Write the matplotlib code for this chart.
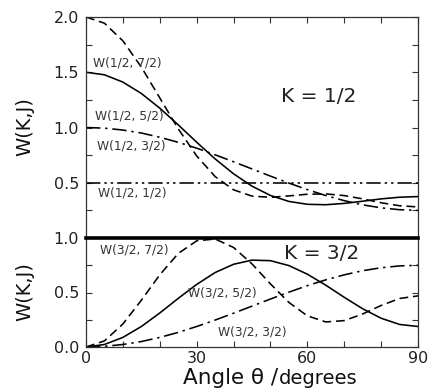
import matplotlib
matplotlib.use("Agg")
import matplotlib.pyplot as plt
from matplotlib.ticker import FixedLocator, FixedFormatter

# ---- data ----
theta = [0, 5, 10, 15, 20, 25, 30, 35, 40, 45, 50, 55, 60, 65, 70, 75, 80, 85, 90]

# K = 1/2 panel
w_half_half = [0.5] * 19
w_half_3half = [1.000, 0.994, 0.977, 0.950, 0.912, 0.866, 0.813, 0.753, 0.690, 0.625,
                0.560, 0.497, 0.438, 0.384, 0.338, 0.300, 0.273, 0.256, 0.250]
w_half_5half = [1.500, 1.477, 1.411, 1.308, 1.175, 1.024, 0.867, 0.716, 0.581, 0.469,
                0.385, 0.331, 0.305, 0.301, 0.313, 0.333, 0.354, 0.369, 0.375]
w_half_7half = [2.000, 1.944, 1.784, 1.547, 1.268, 0.988, 0.743, 0.556, 0.436, 0.379,
                0.368, 0.381, 0.396, 0.399, 0.384, 0.354, 0.319, 0.292, 0.281]

# K = 3/2 panel
w_3half_3half = [0.000, 0.006, 0.023, 0.050, 0.088, 0.134, 0.188, 0.247, 0.310, 0.375,
                 0.440, 0.503, 0.563, 0.616, 0.662, 0.700, 0.727, 0.744, 0.750]
w_3half_5half = [0.000, 0.023, 0.088, 0.188, 0.312, 0.446, 0.574, 0.683, 0.759, 0.797,
                 0.792, 0.747, 0.668, 0.567, 0.456, 0.351, 0.264, 0.207, 0.188]
w_3half_7half = [0.000, 0.056, 0.211, 0.429, 0.662, 0.858, 0.974, 0.991, 0.913, 0.762,
                 0.579, 0.409, 0.286, 0.230, 0.242, 0.303, 0.381, 0.445, 0.469]

x_major = [0, 30, 60, 90]
x_minor = [10, 20, 40, 50, 70, 80]
x_labels = ["0", "30", "60", "90"]

# ---- styles ----
DASH = (0, (5.5, 3.0))
DASHDOT = (0, (9, 3, 1.5, 3))
DASHDOTDOT = (0, (9, 2.5, 1.5, 2.5, 1.5, 2.5))
LW = 1.15
FONT = "DejaVu Sans"

fig = plt.figure(figsize=(4.28, 3.90), dpi=100)
W, H = 428.0, 390.0
L, R = 86, 418
ax1 = fig.add_axes([L / W, (H - 238) / H, (R - L) / W, (238 - 17) / H])
ax2 = fig.add_axes([L / W, (H - 347) / H, (R - L) / W, (347 - 238) / H])

ax1.plot(theta, w_half_half, color="black", lw=LW, ls=DASHDOTDOT)
ax1.plot(theta, w_half_3half, color="black", lw=LW, ls=DASHDOT)
ax1.plot(theta, w_half_5half, color="black", lw=LW, ls="-")
ax1.plot(theta, w_half_7half, color="black", lw=LW, ls=DASH)

ax2.plot(theta, w_3half_3half, color="black", lw=LW, ls=DASHDOT)
ax2.plot(theta, w_3half_5half, color="black", lw=LW, ls="-")
ax2.plot(theta, w_3half_7half, color="black", lw=LW, ls=DASH)

for ax in (ax1, ax2):
    ax.set_xlim(0, 90)
    ax.xaxis.set_major_locator(FixedLocator(x_major))
    ax.xaxis.set_minor_locator(FixedLocator(x_minor))
    ax.tick_params(which="both", direction="in", length=4, width=0.8, color="#333333",
                   left=True, right=True, labelsize=11.5, labelcolor="#222222", pad=5)
    for sp in ax.spines.values():
        sp.set_linewidth(0.9)
        sp.set_color("#333333")

ax1.set_ylim(0, 2.0)
ax1.yaxis.set_major_locator(FixedLocator([0.5, 1.0, 1.5, 2.0]))
ax1.yaxis.set_major_formatter(FixedFormatter(["0.5", "1.0", "1.5", "2.0"]))
ax1.yaxis.set_minor_locator(FixedLocator([0.25, 0.75, 1.25, 1.75]))
ax1.tick_params(which="both", axis="x", top=True, bottom=False, labelbottom=False)
ax1.spines["bottom"].set_visible(False)

ax2.set_ylim(0, 1.0)
ax2.yaxis.set_major_locator(FixedLocator([0.0, 0.5, 1.0]))
ax2.yaxis.set_major_formatter(FixedFormatter(["0.0", "0.5", "1.0"]))
ax2.yaxis.set_minor_locator(FixedLocator([0.25, 0.75]))
ax2.xaxis.set_major_formatter(FixedFormatter(x_labels))
ax2.tick_params(which="both", axis="x", top=False, bottom=True, pad=3)
ax2.spines["top"].set_linewidth(2.6)
ax2.spines["top"].set_color("black")
ax2.spines["top"].set_zorder(5)

# curve labels
lab = dict(fontsize=8.8, color="#333333", family=FONT, va="center")
ax1.text(2.0, 1.585, "W(1/2, 7/2)", **lab)
ax1.text(2.4, 1.10, "W(1/2, 5/2)", **lab)
ax1.text(3.0, 0.83, "W(1/2, 3/2)", **lab)
ax1.text(3.3, 0.41, "W(1/2, 1/2)", **lab)
ax2.text(3.8, 0.89, "W(3/2, 7/2)", **lab)
ax2.text(27.6, 0.50, "W(3/2, 5/2)", **lab)
ax2.text(35.8, 0.14, "W(3/2, 3/2)", **lab)

ax1.text(63, 1.28, "K = 1/2", fontsize=14.5, color="#222222", ha="center", va="center")
ax2.text(64, 0.86, "K = 3/2", fontsize=14.5, color="#222222", ha="center", va="center")

fig.text(25 / W, 1 - 127 / H, "W(K,J)", rotation=90, fontsize=14, ha="center", va="center",
         color="#111111")
fig.text(25 / W, 1 - 292 / H, "W(K,J)", rotation=90, fontsize=14, ha="center", va="center",
         color="#111111")

fig.text(278 / W, (H - 384) / H, "Angle θ /", fontsize=15.5, ha="right", va="baseline",
         color="#111111")
fig.text(279 / W, (H - 384) / H, "degrees", fontsize=14, ha="left", va="baseline",
         color="#111111")

fig.savefig("out.png", dpi=100)
